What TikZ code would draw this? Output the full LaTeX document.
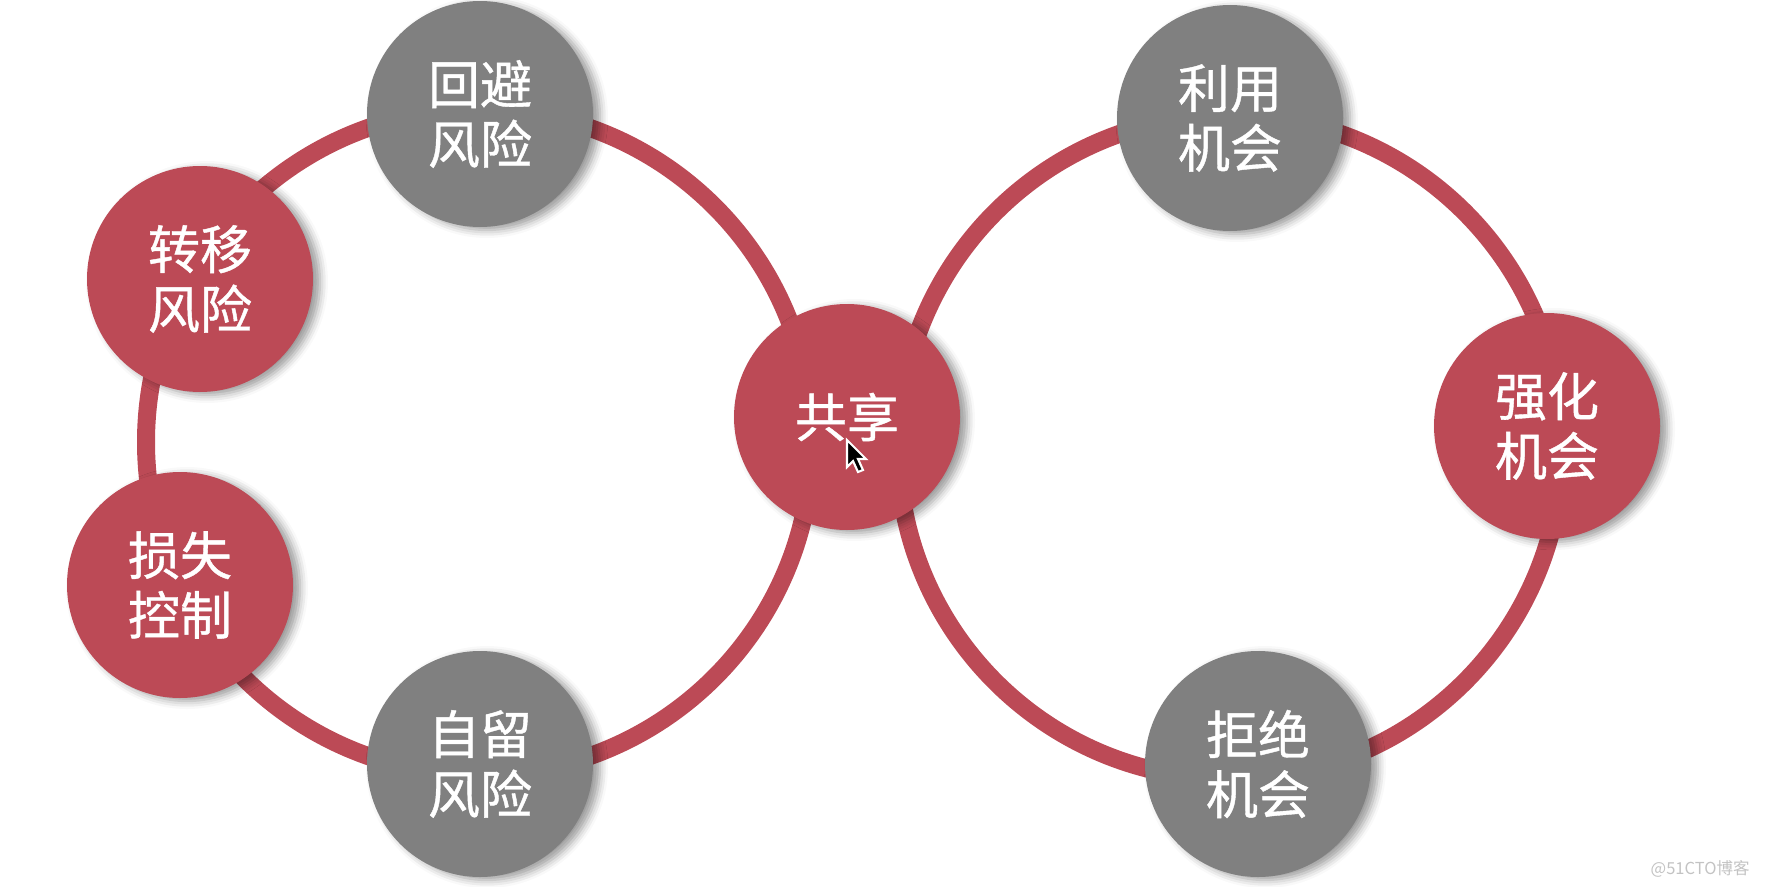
\documentclass[tikz,border=0pt]{standalone}
\usepackage{fontspec}
\newfontfamily\cjk[FakeBold=0.8]{Noto Sans CJK SC}
\newfontfamily\cjkmark{Noto Sans CJK SC}
\usetikzlibrary{shadows.blur}
\definecolor{riskred}{RGB}{188,74,86}
\definecolor{riskgray}{RGB}{128,128,128}
\definecolor{markgray}{RGB}{195,195,195}

\begin{document}
\begin{tikzpicture}[
    bubble/.style={circle, minimum size=2.26cm, inner sep=0pt, text=white, align=center,
                   font=\cjk\fontsize{14.8pt}{17pt}\selectfont,
                   blur shadow={shadow xshift=0.07cm, shadow yshift=-0.03cm,
                                shadow blur radius=0.08cm, shadow opacity=40}},
    redb/.style={bubble, fill=riskred},
    grayb/.style={bubble, fill=riskgray},
    ring/.style={draw=riskred, line width=0.18cm}
  ]
  \useasboundingbox (0,0) rectangle (17.7,-8.86);

  % the two rings
  \coordinate (lc) at (4.79,-4.42);
  \coordinate (rc) at (12.30,-4.47);
  \draw[ring] (lc) circle[radius=3.33];
  \draw[ring] (rc) circle[radius=3.32];

  % risk side
  \node[grayb] (avoid) at (4.80,-1.14) {回避\\风险};
  \node[redb] (transfer) at (2.00,-2.79) {转移\\风险};
  \node[redb] (control) at (1.80,-5.85) {损失\\控制};
  \node[grayb] (retain) at (4.80,-7.64) {自留\\风险};

  % middle
  \node[redb] (share) at (8.47,-4.17) {共享};

  % opportunity side
  \node[grayb] (exploit) at (12.30,-1.18) {利用\\机会};
  \node[redb] (enhance) at (15.47,-4.26) {强化\\机会};
  \node[grayb] (reject) at (12.58,-7.64) {拒绝\\机会};

  % mouse pointer and mark
  \coordinate (tip) at (8.47,-4.40);
  \filldraw[fill=black, draw=white, line width=0.6pt]
    (tip) -- ++(0,-0.27) -- ++(0.06,0.06) -- ++(0.05,-0.11) -- ++(0.05,0.02)
    -- ++(-0.05,0.11) -- ++(0.08,0) -- cycle;
  \node[text=markgray, font=\cjkmark\fontsize{4.7pt}{5.5pt}\selectfont, anchor=east]
    (mark) at (17.62,-8.69) {@51CTO博客};
\end{tikzpicture}
\end{document}
